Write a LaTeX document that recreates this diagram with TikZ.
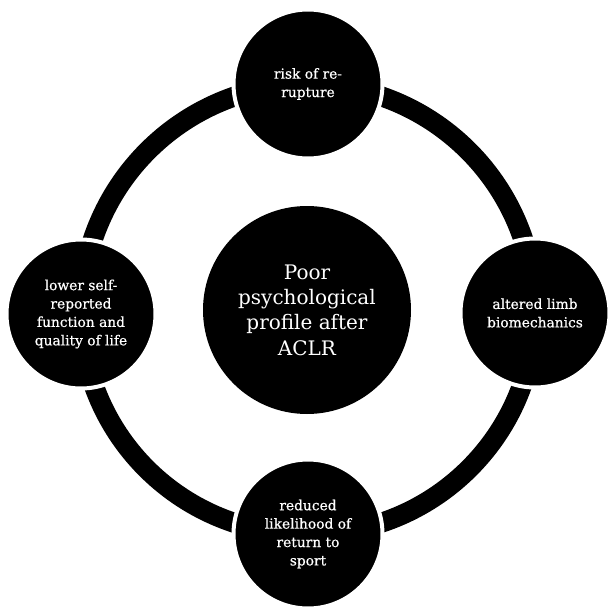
\documentclass[tikz,border=0pt]{standalone}
\usepackage{fontspec}
\setmainfont{DejaVu Serif}
\newfontfamily\boldishfont[FakeBold=0.6]{DejaVu Serif}
\usetikzlibrary{backgrounds}
\begin{document}
\begin{tikzpicture}[x=1pt,y=-1pt,
  bubble/.style={circle,fill=black,draw=white,line width=4pt,inner sep=0pt,minimum size=149pt,text=white,align=center,font=\boldishfont\fontsize{13.8}{18.4}\selectfont},
  hub/.style={circle,fill=black,inner sep=0pt,minimum size=208pt,text=white,align=center,font=\fontsize{20}{25.3}\selectfont},
  ring/.style={line width=20pt,draw=black}]
\useasboundingbox (0,0) rectangle (616,613);
\node[hub] (hub) at (307,310) {Poor\\psychological\\profile after\\ACLR};
\node[bubble] (top) at (308,84) {risk of re-\\rupture};
\node[bubble] (right) at (535,313) {altered limb\\biomechanics};
\node[bubble] (bottom) at (308,534) {reduced\\likelihood of\\return to\\sport};
\node[bubble] (left) at (81,314) {lower self-\\reported\\function and\\quality of life};
\begin{pgfonlayer}{background}
\draw[ring] (top.center) to[bend left=45] (right.center);
\draw[ring] (right.center) to[bend left=45] (bottom.center);
\draw[ring] (bottom.center) to[bend left=45] (left.center);
\draw[ring] (left.center) to[bend left=45] (top.center);
\end{pgfonlayer}
\end{tikzpicture}
\end{document}
